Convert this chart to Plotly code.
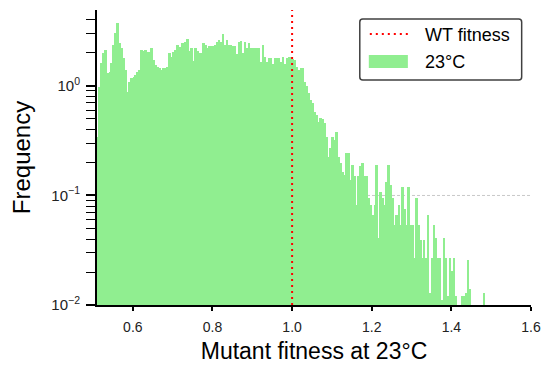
import numpy as np
import plotly.graph_objects as go

# ---- data -------------------------------------------------------------
BIN_START = 0.51
BIN_WIDTH = 0.005
WT_FITNESS = 1.0
SERIES_NAME = "23°C"
LINE_NAME = "WT fitness"

frequency = [
    0.34, 0.97, 1.62, 2.0, 2.13, 1.31, 1.34, 1.62, 2.37, 3.05,
    3.76, 2.47, 2.22, 1.8, 1.4, 0.88, 1.09, 1.18, 1.21, 1.26,
    1.34, 1.4, 2.13, 2.09, 2.13, 2.04, 2.04, 2.22, 1.73, 1.55,
    1.49, 1.46, 1.4, 1.46, 1.46, 1.49, 2.0, 1.84, 2.04, 2.13,
    2.37, 2.27, 2.47, 2.47, 2.52, 2.67, 2.1, 2.21, 1.7, 2.21,
    2.1, 2.0, 1.99, 2.45, 2.37, 2.21, 2.3, 2.3, 2.33, 2.37,
    2.5, 2.6, 2.5, 2.95, 2.37, 2.65, 2.37, 2.37, 2.3, 2.3,
    1.95, 2.5, 2.55, 2.0, 2.5, 2.21, 2.45, 2.21, 2.21, 2.21,
    2.21, 2.21, 1.67, 2.37, 1.85, 1.67, 1.8, 1.8, 1.6, 1.8,
    1.8, 1.8, 1.67, 1.85, 1.6, 1.8, 1.85, 1.85, 1.75, 1.72,
    1.5, 1.4, 1.45, 1.45, 1.09, 0.99, 0.86, 0.745, 0.70, 0.58,
    0.54, 0.47, 0.51, 0.5, 0.456, 0.344, 0.226, 0.27, 0.344, 0.32,
    0.38, 0.226, 0.196, 0.165, 0.155, 0.243, 0.243, 0.139, 0.19, 0.149,
    0.082, 0.149, 0.185, 0.196, 0.149, 0.15, 0.094, 0.082, 0.066, 0.082,
    0.19, 0.041, 0.108, 0.094, 0.082, 0.134, 0.19, 0.125, 0.094, 0.054,
    0.066, 0.082, 0.054, 0.12, 0.076, 0.054, 0.12, 0.054, 0.054, 0.027,
    0.094, 0.054, 0.039, 0.027, 0.039, 0.027, 0.066, 0.013, 0.027, 0.054,
    0.041, 0.027, 0.027, 0.011, 0.041, 0.027, 0.012, 0.027, 0.0203, 0.027,
    0.012, None, None, 0.012, 0.012, 0.013, 0.026, 0.014, None, None,
    None, None, None, None, 0.013,
]

x_tick_vals = [0.6, 0.8, 1.0, 1.2, 1.4, 1.6]
x_tick_text = ["0.6", "0.8", "1.0", "1.2", "1.4", "1.6"]
y_tick_vals = [0.01, 0.1, 1]
y_tick_text = ["10<sup>\u22122</sup>", "10<sup>\u22121</sup>", "10<sup>0</sup>"]
y_minor_vals = [0.02, 0.03, 0.04, 0.05, 0.06, 0.07, 0.08, 0.09,
                0.2, 0.3, 0.4, 0.5, 0.6, 0.7, 0.8, 0.9, 2, 3, 4]
REF_LEVEL = 0.1

# ---- figure -----------------------------------------------------------
bin_left = BIN_START + BIN_WIDTH * np.arange(len(frequency))

FONT = "Liberation Sans, Arial, sans-serif"
GREEN = "#90EE90"

fig = go.Figure()
fig.add_trace(go.Bar(
    x=bin_left, y=frequency, width=BIN_WIDTH, offset=0,
    marker=dict(color=GREEN, line=dict(width=0)),
    name=SERIES_NAME, showlegend=False,
))

# vertical WT line (data x, full height)
fig.add_shape(type="line", xref="x", yref="paper",
              x0=WT_FITNESS, x1=WT_FITNESS, y0=0, y1=1,
              line=dict(color="red", width=2, dash="2px,4px"), layer="above")

# faint reference line at 0.1 behind bars
fig.add_shape(type="line", xref="paper", yref="y",
              x0=0, x1=1, y0=REF_LEVEL, y1=REF_LEVEL,
              line=dict(color="#c8c8c8", width=1, dash="3px,2px"), layer="below")

# ---- legend (drawn) ---------------------------------------------------
lx0, lx1, ly0, ly1 = 0.6055, 0.9785, 0.7627, 0.9695
rx, ry = 0.0069, 0.0102
box_path = (f"M{lx0+rx},{ly0} L{lx1-rx},{ly0} Q{lx1},{ly0} {lx1},{ly0+ry} "
            f"L{lx1},{ly1-ry} Q{lx1},{ly1} {lx1-rx},{ly1} "
            f"L{lx0+rx},{ly1} Q{lx0},{ly1} {lx0},{ly1-ry} "
            f"L{lx0},{ly0+ry} Q{lx0},{ly0} {lx0+rx},{ly0} Z")
fig.add_shape(type="path", xref="paper", yref="paper", path=box_path,
              line=dict(color="#404040", width=1.5), fillcolor="white", layer="above")
fig.add_shape(type="line", xref="paper", yref="paper",
              x0=0.6286, x1=0.7163, y0=0.9186, y1=0.9186,
              line=dict(color="red", width=2, dash="2px,4px"), layer="above")
fig.add_shape(type="rect", xref="paper", yref="paper",
              x0=0.6263, x1=0.7163, y0=0.8034, y1=0.8475,
              line=dict(width=0), fillcolor=GREEN, layer="above")
fig.add_annotation(xref="paper", yref="paper", x=0.7509, y=0.9153,
                   text=LINE_NAME, showarrow=False, xanchor="left", yanchor="middle",
                   font=dict(family=FONT, size=18, color="black"))
fig.add_annotation(xref="paper", yref="paper", x=0.7509, y=0.8237,
                   text=SERIES_NAME, showarrow=False, xanchor="left", yanchor="middle",
                   font=dict(family=FONT, size=18, color="black"))

fig.update_layout(
    width=552, height=369,
    margin=dict(l=97, r=21, t=10, b=64),
    paper_bgcolor="white", plot_bgcolor="white",
    bargap=0, showlegend=False,
    font=dict(family=FONT, color="#222222"),
    xaxis=dict(
        range=[0.51, 1.6], tickmode="array", tickvals=x_tick_vals, ticktext=x_tick_text,
        showgrid=False, zeroline=False, showline=True, linecolor="black", linewidth=2,
        ticks="outside", ticklen=4, tickwidth=2, tickcolor="black",
        ticklabelstandoff=4,
        tickfont=dict(size=14, color="#222222"),
        title=dict(text="Mutant fitness at 23°C", font=dict(size=23, color="black"), standoff=9),
    ),
    yaxis=dict(
        type="log", range=[-2, 0.693], tickmode="array",
        tickvals=y_tick_vals, ticktext=y_tick_text,
        showgrid=False, zeroline=False, showline=True, linecolor="black", linewidth=2,
        ticks="outside", ticklen=9, tickwidth=1.5, tickcolor="black",
        ticklabelstandoff=3,
        tickfont=dict(size=15, color="#222222"),
        minor=dict(tickmode="array", tickvals=y_minor_vals, ticks="outside",
                   ticklen=9, tickwidth=1, tickcolor="black", showgrid=False),
        title=dict(text="Frequency", font=dict(size=24, color="black"), standoff=14),
    ),
)

fig.write_html("out.html")
